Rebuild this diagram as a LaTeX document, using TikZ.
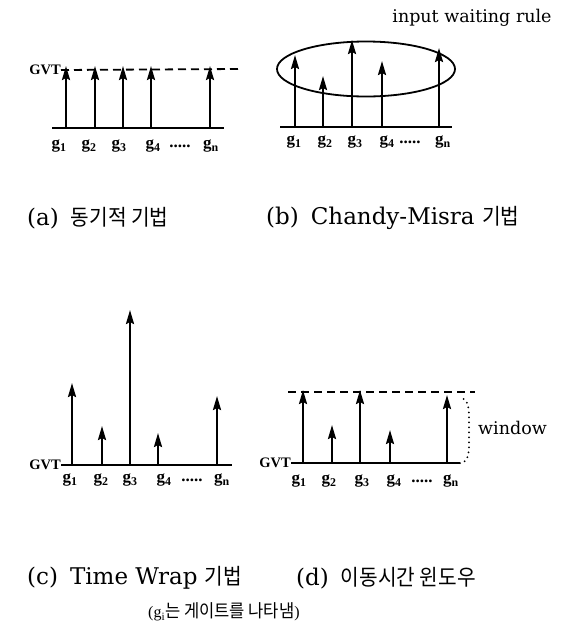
\documentclass[tikz,border=0pt]{standalone}
\usepackage{fontspec}
\setmainfont{Liberation Serif}
\newfontfamily\capfont{DejaVu Serif}
\newfontfamily\krfont[FakeStretch=0.92]{Noto Sans CJK KR}
\usetikzlibrary{positioning,calc,arrows.meta,shapes.geometric}
\newcommand{\gate}[1]{g\textsubscript{#1}}
\newcommand{\kr}[1]{{\krfont\fontsize{22}{22}\selectfont #1}}

\begin{document}
\begin{tikzpicture}[x=1pt, y=-1pt, >={Stealth[length=14pt,width=8pt,inset=2pt]}, up/.style={->, line width=2.2pt}, base/.style={line width=2pt}, dashline/.style={line width=1.8pt, dash pattern=on 8pt off 5pt}, lbl/.style={font=\fontsize{17}{17}\selectfont\bfseries, inner sep=0pt}, gvt/.style={font=\fontsize{14.5}{14.5}\selectfont\bfseries, inner sep=0pt, anchor=east}, capline/.style={font=\capfont\fontsize{23}{23}\selectfont, inner sep=0pt, anchor=west}, note/.style={font=\capfont\fontsize{17.5}{17.5}\selectfont, inner sep=0pt}]

\useasboundingbox (0,0) rectangle (568,630);

% (a) synchronous
\node[gvt] (gvtA) at (61,70) {GVT};
\coordinate (aL) at (52,128);
\coordinate (aR) at (224,128);
\coordinate (aD) at (238,69);
\draw[base] (aL) -- (aR);
\draw[dashline] (gvtA.east) -- (aD);
\foreach \x/\t/\n in {66/66/1, 95/66/2, 123/66/3, 151/66/4, 210/66/n} {
  \coordinate (a\n b) at (\x,128);
  \coordinate (a\n t) at (\x,\t);
  \draw[up] (a\n b) -- (a\n t);
}
\foreach \x/\n in {59/1, 89/2, 119/3, 153/4, 211/n}
  \node[lbl] (ga\n) at (\x,146) {\gate{\n}};
\node[lbl] (gaDots) at (180,146) {.....};
\node[capline] (capA) at (27,218) {(a)\hspace{12pt}\kr{동기적 기법}};

% (b) Chandy-Misra
\node[note] (rule) at (472,18) {input waiting rule};
\node[draw, ellipse, line width=1.8pt, minimum width=178pt, minimum height=55pt, inner sep=0pt] (wait) at (366,69) {};
\coordinate (bL) at (280,127);
\coordinate (bR) at (452,127);
\draw[base] (bL) -- (bR);
\foreach \x/\t/\n in {295/55/1, 323/76/2, 352/40/3, 382/61/4, 439/48/n} {
  \coordinate (b\n b) at (\x,127);
  \coordinate (b\n t) at (\x,\t);
  \draw[up] (b\n b) -- (b\n t);
}
\foreach \x/\n in {294/1, 325/2, 355/3, 387/4, 443/n}
  \node[lbl] (gb\n) at (\x,142) {\gate{\n}};
\node[lbl] (gbDots) at (410,142) {.....};
\node[capline] (capB) at (266,218) {(b)\hspace{12pt}Chandy-Misra \kr{기법}};

% (c) Time Wrap
\node[gvt] (gvtC) at (61,465) {GVT};
\coordinate (cR) at (232,465);
\draw[base] (gvtC.east) -- (cR);
\foreach \x/\t/\n in {72/383/1, 102/426/2, 130/310/3, 158/433/4, 217/396/n} {
  \coordinate (c\n b) at (\x,465);
  \coordinate (c\n t) at (\x,\t);
  \draw[up] (c\n b) -- (c\n t);
}
\foreach \x/\n in {70/1, 101/2, 130/3, 164/4, 222/n}
  \node[lbl] (gc\n) at (\x,480) {\gate{\n}};
\node[lbl] (gcDots) at (192,480) {.....};
\node[capline] (capC) at (27,578) {(c)\hspace{12pt}Time Wrap \kr{기법}};

% (d) moving time window
\node[gvt] (gvtD) at (291,463) {GVT};
\coordinate (dR) at (460,463);
\coordinate (dL) at (288,392);
\coordinate (dD) at (475,392);
\draw[base] (gvtD.east) -- (dR);
\draw[dashline] (dL) -- (dD);
\foreach \x/\t/\n in {303/390/1, 332/425/2, 360/390/3, 390/430/4, 447/395/n} {
  \coordinate (d\n b) at (\x,463);
  \coordinate (d\n t) at (\x,\t);
  \draw[up] (d\n b) -- (d\n t);
}
\foreach \x/\n in {299/1, 329/2, 362/3, 394/4, 451/n}
  \node[lbl] (gd\n) at (\x,481) {\gate{\n}};
\node[lbl] (gdDots) at (422,481) {.....};
\coordinate (wTop) at (460,398);
\draw[line width=2pt, line cap=round, dash pattern=on 0pt off 5pt] (dR) to[out=0, in=-90] (469,445) -- (469,418) to[out=90, in=0] (wTop);
\node[note, anchor=west] (win) at (478,428) {window};
\node[capline] (capD) at (296,578) {(d)\hspace{12pt}\kr{이동시간 윈도우}};

\node[inner sep=0pt] (foot) at (224,612) {\fontsize{16}{16}\selectfont(g\textsubscript{i}{\krfont\fontsize{18}{18}\selectfont 는 게이트를 나타냄})};
\end{tikzpicture}
\end{document}
